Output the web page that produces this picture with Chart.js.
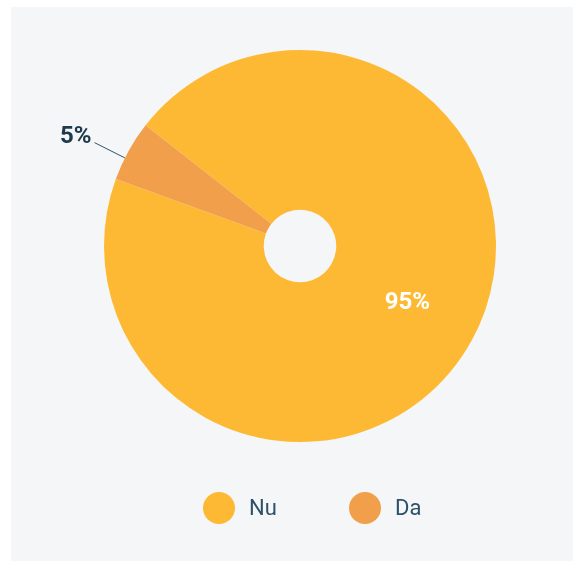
<!DOCTYPE html>
<html>
<head>
<meta charset="utf-8">
<script src="https://cdn.jsdelivr.net/npm/chart.js@4"></script>
<style>
  html, body { margin: 0; padding: 0; background: #ffffff; }
  .panel { position: absolute; left: 11px; top: 7px; width: 562px; height: 554px; background: #f5f6f8; }
  .wrap { position: absolute; left: 0; top: 0; width: 575px; height: 562px; }
</style>
</head>
<body>
<div class="panel"></div>
<div class="wrap"><canvas id="pie" width="575" height="562"></canvas></div>
<script>
const categories = ['Nu', 'Da'];
const values = [95, 5];
const colors = ['#fdb933', '#f29f4b'];

const canvas = document.getElementById('pie');

// labels op de slices + eigen legenda
const sliceLabels = {
  id: 'sliceLabels',
  afterDatasetsDraw(chart) {
    const ctx = chart.ctx;
    const arcs = chart.getDatasetMeta(0).data;
    ctx.save();
    ctx.font = 'bold 24px Roboto';
    arcs.forEach((arc, i) => {
      const text = values[i] + '%';
      const mid = (arc.startAngle + arc.endAngle) / 2;
      if (values[i] > 20) {
        const a = mid - 0.025;
        const r = (arc.innerRadius + arc.outerRadius) / 2 + 5;
        ctx.fillStyle = '#ffffff';
        ctx.textAlign = 'center';
        ctx.textBaseline = 'middle';
        ctx.fillText(text, arc.x + Math.cos(a) * r, arc.y + Math.sin(a) * r + 1);
      } else {
        const a = mid - 0.04;
        const r = arc.outerRadius;
        const x1 = arc.x + Math.cos(a) * r;
        const y1 = arc.y + Math.sin(a) * r;
        const x2 = arc.x + Math.cos(a) * (r + 34);
        const y2 = arc.y + Math.sin(a) * (r + 34);
        ctx.strokeStyle = '#2e5368';
        ctx.lineWidth = 1;
        ctx.beginPath();
        ctx.moveTo(x1, y1);
        ctx.lineTo(x2, y2);
        ctx.stroke();
        ctx.fillStyle = '#1f3a4d';
        ctx.textAlign = 'right';
        ctx.textBaseline = 'middle';
        ctx.fillText(text, x2 - 3, y2 - 6);
      }
    });
    ctx.restore();
  },
  afterDraw(chart) {
    const ctx = chart.ctx;
    const legendX = [219, 365];
    const legendY = 508;
    ctx.save();
    ctx.font = '22px Roboto';
    ctx.textAlign = 'left';
    ctx.textBaseline = 'middle';
    categories.forEach((c, i) => {
      ctx.fillStyle = colors[i];
      ctx.beginPath();
      ctx.arc(legendX[i], legendY, 16, 0, Math.PI * 2);
      ctx.fill();
      ctx.fillStyle = '#2d5267';
      ctx.fillText(c, legendX[i] + 30, legendY + 1);
    });
    ctx.restore();
  }
};

new Chart(canvas, {
  type: 'doughnut',
  data: {
    labels: categories,
    datasets: [{
      data: values,
      backgroundColor: colors,
      borderWidth: 0
    }]
  },
  options: {
    responsive: false,
    animation: false,
    rotation: -52,
    cutout: '18.5%',
    layout: { padding: { left: 104, right: 79, top: 50, bottom: 120 } },
    plugins: {
      legend: { display: false },
      tooltip: { enabled: false }
    }
  },
  plugins: [sliceLabels]
});
</script>
</body>
</html>
